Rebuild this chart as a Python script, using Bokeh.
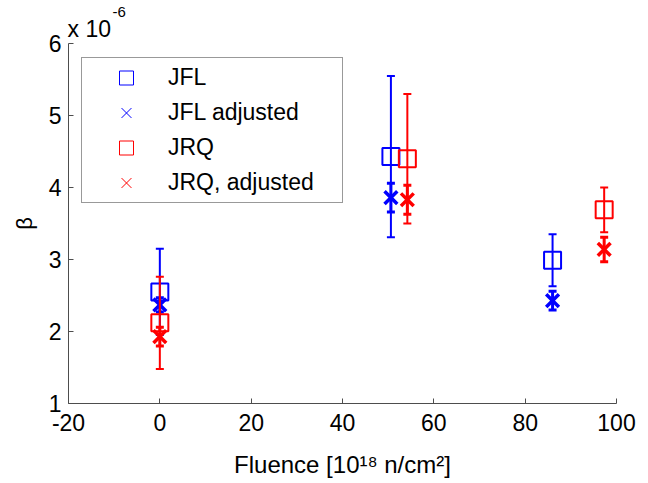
from bokeh.plotting import figure
from bokeh.models import Range1d, FixedTicker, Legend, LegendItem, Title
from bokeh.embed import file_html
from bokeh.resources import INLINE

# ---- data (beta in units of 1e-6) ----
fluence_jfl = [0.0, 50.6, 86.0]
beta_jfl = [2.55, 4.43, 2.99]
err_jfl = [0.60, 1.12, 0.36]
beta_jfl_adj = [2.37, 3.86, 2.43]
err_jfl_adj = [0.10, 0.20, 0.13]

fluence_jrq = [0.0, 54.2, 97.3]
beta_jrq = [2.12, 4.40, 3.69]
err_jrq = [0.64, 0.90, 0.31]
beta_jrq_adj = [1.93, 3.83, 3.14]
err_jrq_adj = [0.13, 0.20, 0.17]

x_ticks = [-20, 0, 20, 40, 60, 80, 100]
y_ticks = [1, 2, 3, 4, 5, 6]
series_labels = ["JFL", "JFL adjusted", "JRQ", "JRQ, adjusted"]
scale_text = "x 10"
scale_exp = "-6"

FONT = "Liberation Sans"
AX = "#4d4d4d"
NAN = float("nan")

p = figure(width=640, height=480, x_range=Range1d(-20, 100), y_range=Range1d(1, 6),
           output_backend="svg", toolbar_location=None,
           min_border_left=68, min_border_right=24, min_border_top=43, min_border_bottom=75)
p.outline_line_color = None
p.xgrid.visible = False
p.ygrid.visible = False
p.background_fill_color = "white"
p.border_fill_color = "white"

# scale factor above the y axis: "x 10" near the frame, the exponent raised above it
p.add_layout(Title(text=scale_text, align="left", text_font=FONT, text_font_size="23px",
                   text_font_style="normal", text_color="black", standoff=3, offset=-1), "above")
p.add_layout(Title(text=scale_exp, align="left", text_font=FONT, text_font_size="15px",
                   text_font_style="normal", text_color="black", standoff=-9, offset=44), "above")

for ax in (p.xaxis[0], p.yaxis[0]):
    ax.axis_line_color = AX
    ax.axis_line_width = 1
    ax.major_tick_line_color = AX
    ax.major_tick_in = 5
    ax.major_tick_out = 0
    ax.minor_tick_line_color = None
    ax.major_label_text_font = FONT
    ax.major_label_text_font_size = "23px"
    ax.major_label_text_color = "black"
    ax.axis_label_text_font = FONT
    ax.axis_label_text_font_style = "normal"
    ax.axis_label_text_color = "black"

p.xaxis.ticker = FixedTicker(ticks=x_ticks)
p.yaxis.ticker = FixedTicker(ticks=y_ticks)
p.xaxis.major_label_overrides = {t: str(t) for t in x_ticks}
p.xaxis.major_label_standoff = 10
p.yaxis.major_label_standoff = 7
p.xaxis.axis_label = "Fluence [10\u00b9\u2078 n/cm\u00b2]"
p.xaxis.axis_label_text_font_size = "24px"
p.xaxis.axis_label_standoff = 17
p.yaxis.axis_label = "\u03b2"
p.yaxis.axis_label_text_font_size = "22px"
p.yaxis.axis_label_standoff = 9


def errbars(xs, ys, es, color, lw, cap):
    up = [y + e for y, e in zip(ys, es)]
    lo = [y - e for y, e in zip(ys, es)]
    p.segment(x0=xs, y0=lo, x1=xs, y1=up, line_color=color, line_width=lw)
    p.scatter(x=xs + xs, y=up + lo, marker="dash", size=cap, line_color=color, line_width=lw)


# JFL
errbars(fluence_jfl, beta_jfl, err_jfl, "blue", 2, 8)
p.scatter(x=fluence_jfl, y=beta_jfl, marker="square", size=17, fill_color=None,
          line_color="blue", line_width=2)
errbars(fluence_jfl, beta_jfl_adj, err_jfl_adj, "blue", 3, 8)
p.scatter(x=fluence_jfl, y=beta_jfl_adj, marker="x", size=18, line_color="blue", line_width=3.5)
# JRQ
errbars(fluence_jrq, beta_jrq, err_jrq, "red", 2, 8)
p.scatter(x=fluence_jrq, y=beta_jrq, marker="square", size=17, fill_color=None,
          line_color="red", line_width=2)
errbars(fluence_jrq, beta_jrq_adj, err_jrq_adj, "red", 3, 8)
p.scatter(x=fluence_jrq, y=beta_jrq_adj, marker="x", size=18, line_color="red", line_width=3.5)

# legend proxies (thin markers as in the reference legend); NaN points draw nothing in the plot
proxies = [
    p.scatter(x=[NAN], y=[NAN], marker="square", fill_color=None, line_color="blue", line_width=1),
    p.scatter(x=[NAN], y=[NAN], marker="x", line_color="blue", line_width=1),
    p.scatter(x=[NAN], y=[NAN], marker="square", fill_color=None, line_color="red", line_width=1),
    p.scatter(x=[NAN], y=[NAN], marker="x", line_color="red", line_width=1),
]
legend = Legend(items=[LegendItem(label=l, renderers=[r]) for l, r in zip(series_labels, proxies)],
                location=(13, 200), orientation="vertical",
                glyph_width=84, glyph_height=35, spacing=0, padding=2, margin=0,
                label_standoff=0, label_width=172,
                label_text_font=FONT, label_text_font_size="23px", label_text_color="black",
                border_line_color="#333333", border_line_width=1,
                background_fill_color="white", background_fill_alpha=1.0)
p.add_layout(legend)

open("out.html", "w").write(file_html(p, INLINE))
